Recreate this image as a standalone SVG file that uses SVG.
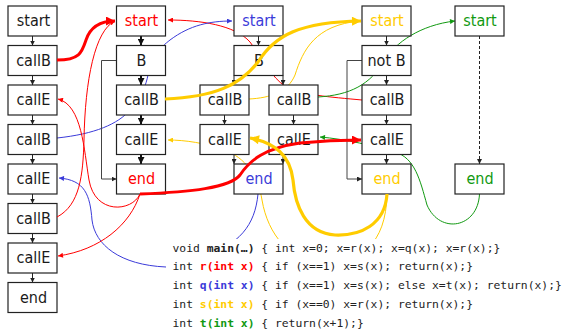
<svg xmlns="http://www.w3.org/2000/svg" width="564" height="333" viewBox="0 0 564 333">
<style>
.box{fill:#fff;stroke:#222;stroke-width:1.2}
.lbl{font-family:"DejaVu Sans Condensed","DejaVu Sans",sans-serif;font-stretch:condensed;font-size:16px;text-anchor:middle;fill:#1a1a1a}
.r{fill:#ff0000}.b{fill:#3b3bd9}.y{fill:#ffcc00}.g{fill:#119911}
.code{font-family:"DejaVu Sans Mono",monospace;font-size:11.35px;fill:#222}
.code .k{font-weight:bold}
.flow{fill:none;stroke:#222;stroke-width:1}
.bold{fill:none;stroke:#111;stroke-width:2}
.side{fill:none;stroke:#444;stroke-width:1}
.cr{fill:none;stroke:#ff0000;stroke-width:1}
.cR{fill:none;stroke:#ff0000;stroke-width:3}
.cb{fill:none;stroke:#3b3bd9;stroke-width:1}
.cy{fill:none;stroke:#ffcc00;stroke-width:1}
.cY{fill:none;stroke:#ffcc00;stroke-width:3.2}
.cg{fill:none;stroke:#119911;stroke-width:1}
</style>
<defs>
<marker id="mk" viewBox="0 0 10 10" refX="10" refY="5" markerWidth="5" markerHeight="5" markerUnits="userSpaceOnUse" orient="auto"><path d="M0,0 L10,5 L0,10 z" fill="#222"/></marker>
<marker id="mkB" viewBox="0 0 10 10" refX="10" refY="5" markerWidth="7" markerHeight="7" markerUnits="userSpaceOnUse" orient="auto"><path d="M0,0 L10,5 L0,10 z" fill="#111"/></marker>
<marker id="mr" viewBox="0 0 10 10" refX="10" refY="5" markerWidth="6" markerHeight="5" markerUnits="userSpaceOnUse" orient="auto"><path d="M0,0 L10,5 L0,10 z" fill="#ff0000"/></marker>
<marker id="mR" viewBox="0 0 10 10" refX="10" refY="5" markerWidth="10" markerHeight="9" markerUnits="userSpaceOnUse" orient="auto"><path d="M0,0 L10,5 L0,10 z" fill="#ff0000"/></marker>
<marker id="mb" viewBox="0 0 10 10" refX="10" refY="5" markerWidth="6" markerHeight="5" markerUnits="userSpaceOnUse" orient="auto"><path d="M0,0 L10,5 L0,10 z" fill="#3b3bd9"/></marker>
<marker id="my" viewBox="0 0 10 10" refX="10" refY="5" markerWidth="6" markerHeight="5" markerUnits="userSpaceOnUse" orient="auto"><path d="M0,0 L10,5 L0,10 z" fill="#ffcc00"/></marker>
<marker id="mY" viewBox="0 0 10 10" refX="10" refY="5" markerWidth="10" markerHeight="9" markerUnits="userSpaceOnUse" orient="auto"><path d="M0,0 L10,5 L0,10 z" fill="#ffcc00"/></marker>
<marker id="mg" viewBox="0 0 10 10" refX="10" refY="5" markerWidth="6" markerHeight="5" markerUnits="userSpaceOnUse" orient="auto"><path d="M0,0 L10,5 L0,10 z" fill="#119911"/></marker>
</defs>
<rect width="564" height="333" fill="#fff"/>

<g id="connectors-back">
<path class="cr" d="M362,100 C330,97 300,95 285,86 C272,78 262,58 250,42 C235,25 200,20 168,20" marker-end="url(#mr)"/>
<path class="cb" d="M57,138 C95,134 118,124 130,110 C142,96 146,85 148,75 C152,55 160,48 170,40 C190,25 210,21 232,21" marker-end="url(#mb)"/>
<path class="cy" d="M249,99 C270,98 288,92 295,75 C303,50 315,25 360,21" marker-end="url(#my)"/>
<path class="cy" d="M387,194 C386,245 360,262 325,262 C290,262 268,235 262,200 C258,175 245,158 225,150 C205,143 185,140 168,140" marker-end="url(#my)"/>
<path class="cg" d="M318,97 C350,95 370,85 385,60 C395,43 420,25 455,21" marker-end="url(#mg)"/>
<path class="cg" d="M479.5,194 C478,228 440,235 427,205 C420,180 415,158 395,152 C375,146 345,139 320,137" marker-end="url(#mg)"/>
<path class="cb" d="M258,194 C255,225 240,245 200,258 C185,264 175,267 166,267 C120,265 95,245 92,220 C90,195 85,180 59,178" marker-end="url(#mb)"/>
</g>

<rect id="code-bg" x="166" y="239" width="398" height="94" fill="#fff"/>

<g id="flow-edges">
<path class="flow" d="M32.5,36 V45.5" marker-end="url(#mk)"/>
<path class="flow" d="M32.5,75.5 V85" marker-end="url(#mk)"/>
<path class="flow" d="M32.5,115 V124.5" marker-end="url(#mk)"/>
<path class="flow" d="M32.5,154.5 V164" marker-end="url(#mk)"/>
<path class="flow" d="M32.5,194 V203.5" marker-end="url(#mk)"/>
<path class="flow" d="M32.5,233.5 V243" marker-end="url(#mk)"/>
<path class="flow" d="M32.5,273 V282.5" marker-end="url(#mk)"/>
<path class="bold" d="M141,36 V45.5" marker-end="url(#mkB)"/>
<path class="bold" d="M141,75.5 V85" marker-end="url(#mkB)"/>
<path class="bold" d="M141,115 V124.5" marker-end="url(#mkB)"/>
<path class="bold" d="M141,154.5 V164" marker-end="url(#mkB)"/>
<path class="side" d="M116.5,60.5 H101.5 V179 H116.5" marker-end="url(#mk)"/>
<path class="flow" d="M258.5,36 V45.5" marker-end="url(#mk)"/>
<path class="flow" d="M234,75.5 V85" marker-end="url(#mk)"/>
<path class="flow" d="M283,75.5 V85" marker-end="url(#mk)"/>
<path class="flow" d="M224.5,115 V124.5" marker-end="url(#mk)"/>
<path class="flow" d="M293.5,115 V124.5" marker-end="url(#mk)"/>
<path class="flow" d="M234,154.5 V164" marker-end="url(#mk)"/>
<path class="flow" d="M283,154.5 V164" marker-end="url(#mk)"/>
<path class="flow" d="M386.5,36 V45.5" marker-end="url(#mk)"/>
<path class="flow" d="M386.5,75.5 V85" marker-end="url(#mk)"/>
<path class="flow" d="M386.5,115 V124.5" marker-end="url(#mk)"/>
<path class="flow" d="M386.5,154.5 V164" marker-end="url(#mk)"/>
<path class="side" d="M362,60.5 H347 V179 H362" marker-end="url(#mk)"/>
<path class="flow" d="M479.5,36 V164" stroke-dasharray="3,2" marker-end="url(#mk)"/>
</g>

<g id="main-start"><rect class="box" x="8" y="6" width="49" height="30"/><text class="lbl" x="33.5" y="26">start</text></g>
<g id="main-callB1"><rect class="box" x="8" y="45.5" width="49" height="30"/><text class="lbl" x="33.5" y="65.5">callB</text></g>
<g id="main-callE1"><rect class="box" x="8" y="85" width="49" height="30"/><text class="lbl" x="33.5" y="105">callE</text></g>
<g id="main-callB2"><rect class="box" x="8" y="124.5" width="49" height="30"/><text class="lbl" x="33.5" y="144.5">callB</text></g>
<g id="main-callE2"><rect class="box" x="8" y="164" width="49" height="30"/><text class="lbl" x="33.5" y="184">callE</text></g>
<g id="main-callB3"><rect class="box" x="8" y="203.5" width="49" height="30"/><text class="lbl" x="33.5" y="223.5">callB</text></g>
<g id="main-callE3"><rect class="box" x="8" y="243" width="49" height="30"/><text class="lbl" x="33.5" y="263">callE</text></g>
<g id="main-end"><rect class="box" x="8" y="282.5" width="49" height="30"/><text class="lbl" x="33.5" y="302.5">end</text></g>

<g id="r-start"><rect class="box" x="116.5" y="6" width="49" height="30"/><text class="lbl r" x="141.5" y="26">start</text></g>
<g id="r-B"><rect class="box" x="116.5" y="45.5" width="49" height="30"/><text class="lbl" x="141.5" y="65.5">B</text></g>
<g id="r-callB"><rect class="box" x="116.5" y="85" width="49" height="30"/><text class="lbl" x="141.5" y="105">callB</text></g>
<g id="r-callE"><rect class="box" x="116.5" y="124.5" width="49" height="30"/><text class="lbl" x="141.5" y="144.5">callE</text></g>
<g id="r-end"><rect class="box" x="116.5" y="164" width="49" height="30"/><text class="lbl r" x="141.5" y="184">end</text></g>

<g id="q-start"><rect class="box" x="234" y="6" width="49" height="30"/><text class="lbl b" x="259" y="26">start</text></g>
<g id="q-B"><rect class="box" x="234" y="45.5" width="49" height="30"/><text class="lbl" x="259" y="65.5">B</text></g>
<g id="q-callB1"><rect class="box" x="200" y="85" width="49" height="30"/><text class="lbl" x="225" y="105">callB</text></g>
<g id="q-callB2"><rect class="box" x="269" y="85" width="49" height="30"/><text class="lbl" x="294" y="105">callB</text></g>
<g id="q-callE1"><rect class="box" x="200" y="124.5" width="49" height="30"/><text class="lbl" x="225" y="144.5">callE</text></g>
<g id="q-callE2"><rect class="box" x="269" y="124.5" width="49" height="30"/><text class="lbl" x="294" y="144.5">callE</text></g>
<g id="q-end"><rect class="box" x="234" y="164" width="49" height="30"/><text class="lbl b" x="259" y="184">end</text></g>

<g id="s-start"><rect class="box" x="362" y="6" width="49" height="30"/><text class="lbl y" x="387" y="26">start</text></g>
<g id="s-notB"><rect class="box" x="362" y="45.5" width="49" height="30"/><text class="lbl" x="386.5" y="65.5">not B</text></g>
<g id="s-callB"><rect class="box" x="362" y="85" width="49" height="30"/><text class="lbl" x="387" y="105">callB</text></g>
<g id="s-callE"><rect class="box" x="362" y="124.5" width="49" height="30"/><text class="lbl" x="387" y="144.5">callE</text></g>
<g id="s-end"><rect class="box" x="362" y="164" width="49" height="30"/><text class="lbl y" x="387" y="184">end</text></g>

<g id="t-start"><rect class="box" x="455" y="6" width="49" height="30"/><text class="lbl g" x="480" y="26">start</text></g>
<g id="t-end"><rect class="box" x="455" y="164" width="49" height="30"/><text class="lbl g" x="480" y="184">end</text></g>

<g id="connectors-front">
<path class="cR" d="M57,60 C80,60 82,52 86,40 C90,28 100,21 115,21" marker-end="url(#mR)"/>
<path class="cr" d="M140,194 C132,212 95,215 89,180 C84,150 82,105 58,99" marker-end="url(#mr)"/>
<path class="cr" d="M57,217 C80,205 83,175 84,140 C85,80 95,30 115,21" marker-end="url(#mr)"/>
<path class="cr" d="M140,194 C130,225 100,250 58,256" marker-end="url(#mr)"/>
<path class="cR" d="M140,194 C190,192 230,188 240,175 C250,160 265,148 300,143 C330,140 345,140 361,140" marker-end="url(#mR)"/>
<path class="cY" d="M165,99 C215,97 240,85 258,62 C275,35 300,22 361,21" marker-end="url(#mY)"/>
<path class="cY" d="M387,194 C385,225 360,236 335,235 C305,233 295,205 293,180 C290,155 275,143 250,138" marker-end="url(#mY)"/>
</g>

<g id="code">
<text class="code" x="172.5" y="251.5">void <tspan class="k">main(…)</tspan> { int x=0; x=r(x); x=q(x); x=r(x);}</text>
<text class="code" x="172.5" y="270.3">int <tspan class="k r">r(int x)</tspan> { if (x==1) x=s(x); return(x);}</text>
<text class="code" x="172.5" y="289.1">int <tspan class="k b">q(int x)</tspan> { if (x==1) x=s(x); else x=t(x); return(x);}</text>
<text class="code" x="172.5" y="307.9">int <tspan class="k y">s(int x)</tspan> { if (x==0) x=r(x); return(x);}</text>
<text class="code" x="172.5" y="326.7">int <tspan class="k g">t(int x)</tspan> { return(x+1);}</text>
</g>
</svg>
